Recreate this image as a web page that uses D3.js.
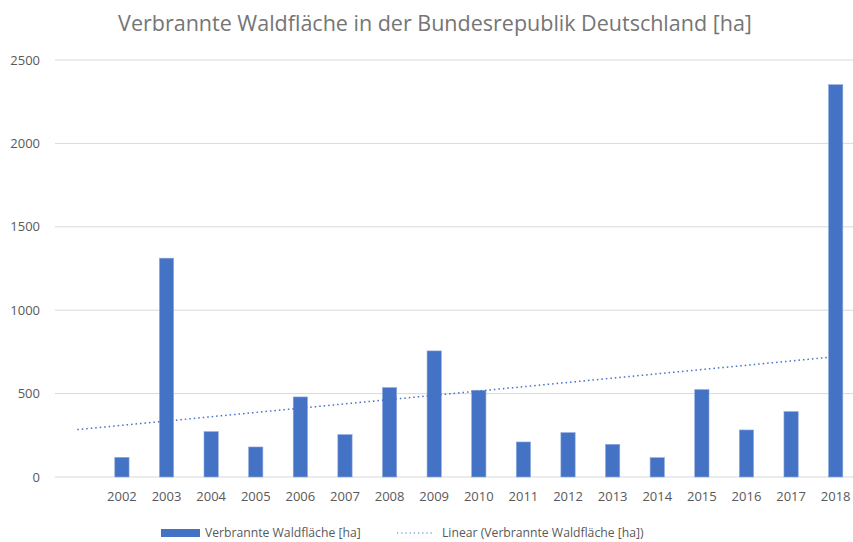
<!DOCTYPE html>
<html>
<head>
<meta charset="utf-8">
<script src="https://cdn.jsdelivr.net/npm/d3@7"></script>
<style>
  body { margin: 0; background: #fff; }
  svg { display: block; font-family: "Open Sans", "Noto Sans", sans-serif; }
</style>
</head>
<body>
<div id="chart"></div>
<script>
// first category is empty in the source sheet
const years = ["", "2002", "2003", "2004", "2005", "2006", "2007", "2008", "2009",
  "2010", "2011", "2012", "2013", "2014", "2015", "2016", "2017", "2018"];
const burnedArea = [null, 118, 1312, 272, 180, 480, 254, 536, 756,
  520, 210, 266, 196, 116, 524, 282, 392, 2352];
const yTicks = [0, 500, 1000, 1500, 2000, 2500];

const chartTitle = 'Verbrannte Waldfläche in der Bundesrepublik Deutschland [ha]';
const seriesName = 'Verbrannte Waldfläche [ha]';
const trendName = 'Linear (Verbrannte Waldfläche [ha])';

const width = 853;
const height = 542;
const margin = { top: 60, right: -5, bottom: 65, left: 55 };
const textColor = '#595959';
const barColor = '#4472c4';

const svg = d3.select('#chart')
  .append('svg')
  .attr('width', width)
  .attr('height', height);

const x = d3.scaleBand()
  .domain(years.map((d, i) => i))
  .range([margin.left, width - margin.right])
  .paddingInner(0.68)
  .paddingOuter(0.34);

const y = d3.scaleLinear()
  .domain([0, 2500])
  .range([height - margin.bottom, margin.top]);

// gridlines
svg.append('g')
  .selectAll('line')
  .data(yTicks)
  .enter()
  .append('line')
  .attr('x1', margin.left)
  .attr('x2', width - margin.right)
  .attr('y1', d => y(d))
  .attr('y2', d => y(d))
  .attr('stroke', '#d9d9d9')
  .attr('stroke-width', 1);

// y labels
svg.append('g')
  .selectAll('text')
  .data(yTicks)
  .enter()
  .append('text')
  .attr('x', 40)
  .attr('y', d => y(d))
  .attr('dy', '0.35em')
  .attr('text-anchor', 'end')
  .style('fill', textColor)
  .style('font-size', '13px')
  .text(d => d);

// bars
const points = burnedArea.map((v, i) => ({ i, v })).filter(d => d.v != null);

svg.append('g')
  .selectAll('rect')
  .data(points)
  .enter()
  .append('rect')
  .attr('x', d => x(d.i))
  .attr('width', x.bandwidth())
  .attr('y', d => y(d.v))
  .attr('height', d => y(0) - y(d.v))
  .attr('fill', barColor)
  .attr('stroke', '#8faadc')
  .attr('stroke-width', 0.6);

// x labels
svg.append('g')
  .selectAll('text')
  .data(years)
  .enter()
  .append('text')
  .attr('x', (d, i) => x(i) + x.bandwidth() / 2)
  .attr('y', y(0) + 24)
  .attr('text-anchor', 'middle')
  .style('fill', textColor)
  .style('font-size', '13px')
  .text(d => d);

// linear trend (least squares over the data points), drawn from the first category
const mx = d3.mean(points, d => d.i);
const my = d3.mean(points, d => d.v);
const slope = d3.sum(points, d => (d.i - mx) * (d.v - my)) / d3.sum(points, d => (d.i - mx) ** 2);
const intercept = my - slope * mx;
const trendIdx = [0, years.length - 1];
const cx = i => x(i) + x.bandwidth() / 2;

svg.append('line')
  .attr('x1', cx(trendIdx[0]))
  .attr('y1', y(intercept + slope * trendIdx[0]))
  .attr('x2', cx(trendIdx[1]))
  .attr('y2', y(intercept + slope * trendIdx[1]))
  .attr('stroke', barColor)
  .attr('stroke-width', 1.5)
  .attr('stroke-dasharray', '1.5 3');

// title
svg.append('text')
  .attr('x', 435)
  .attr('y', 31)
  .attr('text-anchor', 'middle')
  .style('fill', '#757575')
  .style('font-size', '21.5px')
  .text(chartTitle);

// legend
const legend = svg.append('g');
legend.append('rect')
  .attr('x', 161).attr('y', 529)
  .attr('width', 39).attr('height', 8)
  .attr('fill', barColor);
legend.append('text')
  .attr('x', 205).attr('y', 533).attr('dy', '0.35em')
  .style('fill', textColor).style('font-size', '12.2px')
  .text(seriesName);
legend.append('line')
  .attr('x1', 397).attr('x2', 433)
  .attr('y1', 533).attr('y2', 533)
  .attr('stroke', barColor)
  .attr('stroke-width', 1.2)
  .attr('stroke-dasharray', '1.2 3');
legend.append('text')
  .attr('x', 442).attr('y', 533).attr('dy', '0.35em')
  .style('fill', textColor).style('font-size', '12.2px')
  .text(trendName);
</script>
</body>
</html>
